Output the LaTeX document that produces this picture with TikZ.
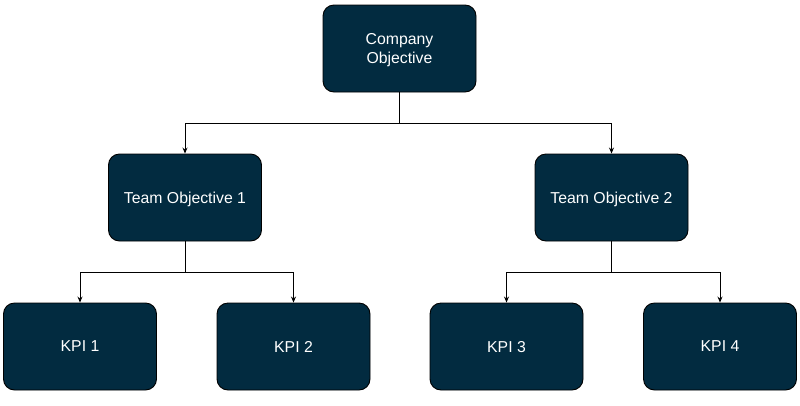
\documentclass[tikz,border=0pt]{standalone}
\usepackage{fontspec}
\setmainfont{Liberation Sans}
\usetikzlibrary{arrows.meta}
\definecolor{boxfill}{HTML}{022B40}
\begin{document}
\begin{tikzpicture}[x=1pt,y=-1pt,
  box/.style={draw=black, line width=0.9pt, fill=boxfill, rounded corners=11pt,
    minimum width=153pt, minimum height=87pt, inner sep=0pt, text=white,
    font=\fontsize{15.8}{19}\selectfont, align=center, text depth=0pt},
  conn/.style={draw=black, line width=0.9pt, -{Stealth[length=6pt,width=5pt]}}]
\useasboundingbox[fill=white] (0,0) rectangle (800,405);
\node[box] (c) at (399.5,48.5) {Company\\Objective};
\node[box] (t1) at (185,197.5) {Team Objective 1};
\node[box] (t2) at (611.5,197.5) {Team Objective 2};
\node[box] (k1) at (80,346.5) {KPI 1};
\node[box] (k2) at (293.5,346.5) {KPI 2};
\node[box] (k3) at (506.5,346.5) {KPI 3};
\node[box] (k4) at (720,346.5) {KPI 4};
\coordinate (b0) at (0,123);
\coordinate (b1) at (0,272);
\draw[conn] (c.south) -- (c.south |- b0) -| (t1.north);
\draw[conn] (c.south) -- (c.south |- b0) -| (t2.north);
\draw[conn] (t1.south) -- (t1.south |- b1) -| (k1.north);
\draw[conn] (t1.south) -- (t1.south |- b1) -| (k2.north);
\draw[conn] (t2.south) -- (t2.south |- b1) -| (k3.north);
\draw[conn] (t2.south) -- (t2.south |- b1) -| (k4.north);
\end{tikzpicture}
\end{document}
